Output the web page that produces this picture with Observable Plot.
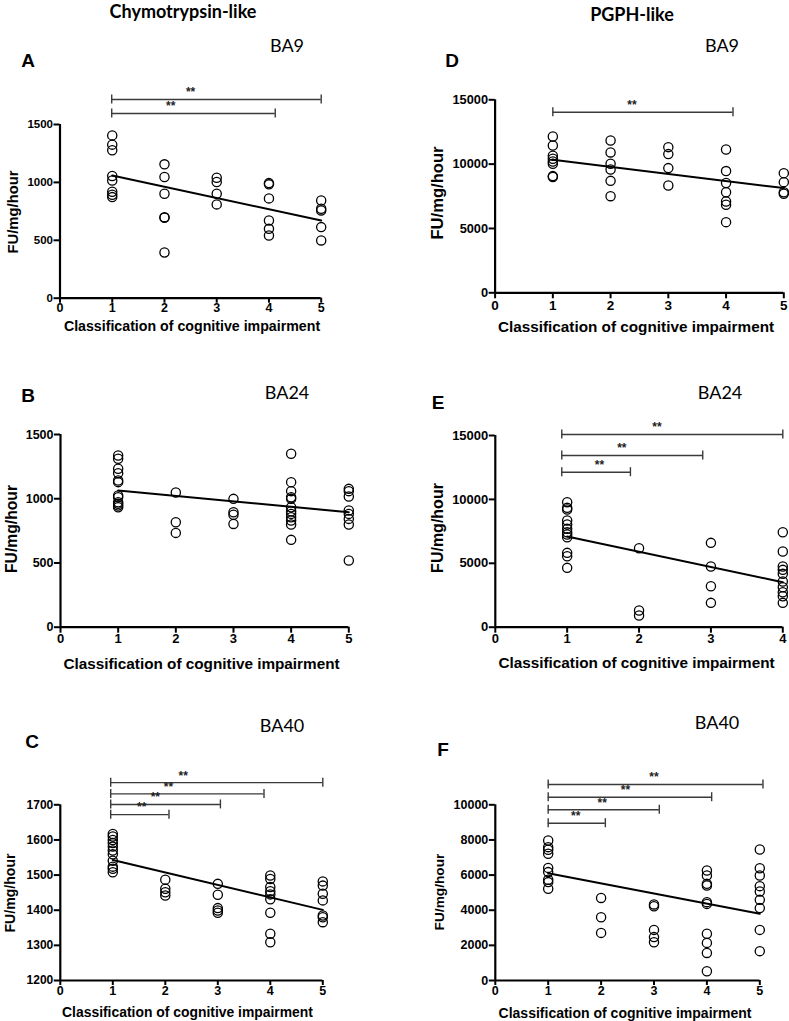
<!DOCTYPE html>
<html><head><meta charset="utf-8">
<script src="https://cdn.jsdelivr.net/npm/d3@7"></script>
<script src="https://cdn.jsdelivr.net/npm/@observablehq/plot@0.6"></script>
<style>
body{margin:0;background:#fff;}
#fig{position:relative;width:789px;height:1021px;overflow:hidden;background:#fff;font-family:"Liberation Sans",Arial,sans-serif;color:#000;}
.t{position:absolute;white-space:nowrap;transform:translate(-50%,-50%);line-height:1;}
.col{font-family:Lato,"Open Sans",sans-serif;font-weight:bold;font-size:18px;}
.reg{font-family:Lato,"Open Sans",sans-serif;font-size:18px;}
.let{font-weight:bold;font-size:19px;}
.xl{font-weight:bold;}
.yl{font-weight:bold;transform:translate(-50%,-50%) rotate(-90deg);}
.p{position:absolute;}
</style></head><body><div id="fig"></div>
<script>
// ---------- data ----------
const groups5 = [1, 2, 3, 4, 5];
const groups4 = [1, 2, 3, 4];
const xLabel = "Classification of cognitive impairment";
const yLabel = "FU/mg/hour";
const columnTitles = ["Chymotrypsin-like", "PGPH-like"];

// A: Chymotrypsin-like, BA9
const chymoBA9 = [[1406,1326,1277,1055,1017,919,893,873],[1156,1046,902,700,695,395],[1040,1003,902,810],[994,983,862,671,599,542],[844,772,758,614,499]];
const chymoBA9Trend = [1060, 671];
const chymoBA9BrFrom = [0.99, 0.99], chymoBA9BrTo = [5.0, 4.12], chymoBA9BrLevel = [1716, 1595], chymoBA9StarX = [2.5, 2.12];
const chymoBA9YTicks = [0, 500, 1000, 1500];

// B: Chymotrypsin-like, BA24
const chymoBA24 = [[1337,1311,1233,1199,1142,1129,1025,1012,973,960,947,934],[1048,817,734],[999,895,875,804],[1350,1129,1059,1012,999,934,903,882,856,830,799,680],[1077,1059,1017,908,882,843,799,519]];
const chymoBA24Trend = [1064, 895];
const chymoBA24YTicks = [0, 500, 1000, 1500];

// C: Chymotrypsin-like, BA40
const chymoBA40 = [[1617,1610,1600,1591,1581,1570,1559,1541,1524,1518,1508],[1487,1461,1451,1442],[1475,1444,1406,1399,1393],[1499,1489,1466,1454,1445,1431,1393,1333,1309],[1482,1470,1447,1428,1385,1380,1366]];
const chymoBA40Trend = [1543, 1401];
const chymoBA40BrFrom = [0.96,0.96,0.96,0.96], chymoBA40BrTo = [5.0,3.88,3.05,2.07], chymoBA40BrLevel = [1763,1731,1701,1672], chymoBA40StarX = [2.34,2.06,1.81,1.55];
const chymoBA40YTicks = [1200, 1300, 1400, 1500, 1600, 1700];

// D: PGPH-like, BA9
const pgphBA9 = [[12150,11450,10650,10420,10210,10030,9070,9000],[11840,10910,10030,9585,8700,7510],[11320,10780,9690,8340],[11140,9460,8530,7820,7100,6840,5490],[9300,8600,7820,7700]];
const pgphBA9Trend = [10340, 8140];
const pgphBA9BrFrom = [1.0], pgphBA9BrTo = [4.12], pgphBA9BrLevel = [14036], pgphBA9StarX = [2.37];
const pgphBA9YTicks = [0, 5000, 10000, 15000];

// E: PGPH-like, BA24
const pgphBA24 = [[9783,9340,9210,8348,8035,7696,7435,7250,7044,5818,5557,4644],[6183,1304,913],[6600,4748,3209,1904],[7435,5922,4748,4487,4174,3574,3131,2739,2426,1904]];
const pgphBA24Trend = [7096, 3522];
const pgphBA24BrFrom = [0.925,0.925,0.925], pgphBA24BrTo = [4.0,2.886,1.88], pgphBA24BrLevel = [15078,13435,12128], pgphBA24StarX = [2.25,1.76,1.45];
const pgphBA24YTicks = [0, 5000, 10000, 15000];

// F: PGPH-like, BA40
const pgphBA40 = [[7970,7590,7440,7210,6410,6170,5730,5600,5220],[4700,3600,2710],[4330,4230,2880,2470,2180],[6260,5980,5500,5410,4460,4360,2660,2140,1570,530],[7460,6390,5980,5370,5070,4590,4120,2880,1670]];
const pgphBA40Trend = [6110, 3800];
const pgphBA40BrFrom = [1,1,1,1], pgphBA40BrTo = [5.06,4.09,3.1,2.08], pgphBA40BrLevel = [11155,10432,9715,8953], pgphBA40StarX = [3.0,2.46,2.02,1.52];
const pgphBA40YTicks = [0, 2000, 4000, 6000, 8000, 10000];

// ---------- layout (pixels) ----------
const panels = [
  {letter:"A", region:"BA9",  groups:groups5, values:chymoBA9,  trend:chymoBA9Trend,  br:[chymoBA9BrFrom,chymoBA9BrTo,chymoBA9BrLevel,chymoBA9StarX], yTicks:chymoBA9YTicks,
   box:[0,70,390,255], px:[59.5,320.7], py:[124,297.7], letterPos:[28,60], regionPos:[287,45], xlPos:[192,326], xlfs:14.2, ylPos:[13,212], ylfs:14.8, yfs:11.5, xfs:12.5, xts:5, xtp:0},
  {letter:"B", region:"BA24", groups:groups5, values:chymoBA24, trend:chymoBA24Trend, br:null, yTicks:chymoBA24YTicks,
   box:[0,405,390,255], px:[60,348.3], py:[434,626.7], letterPos:[28,395], regionPos:[287,392], xlPos:[201.5,664], xlfs:15.3, ylPos:[12,529], ylfs:15.7, yfs:12.5, xfs:13, xts:6, xtp:1},
  {letter:"C", region:"BA40", groups:groups5, values:chymoBA40, trend:chymoBA40Trend, br:[chymoBA40BrFrom,chymoBA40BrTo,chymoBA40BrLevel,chymoBA40StarX], yTicks:chymoBA40YTicks,
   box:[0,755,390,250], px:[59.8,322.3], py:[804.3,980], letterPos:[32,741], regionPos:[282,725], xlPos:[187.5,1013], xlfs:13.9, ylPos:[10,893], ylfs:14.1, yfs:12, xfs:12.5, xts:5, xtp:1},
  {letter:"D", region:"BA9",  groups:groups5, values:pgphBA9,  trend:pgphBA9Trend,  br:[pgphBA9BrFrom,pgphBA9BrTo,pgphBA9BrLevel,pgphBA9StarX], yTicks:pgphBA9YTicks,
   box:[395,70,394,255], px:[494.6,783.3], py:[99.3,292.3], letterPos:[452,60], regionPos:[722,45], xlPos:[636,327], xlfs:15.3, ylPos:[438,193], ylfs:16.6, yfs:12.8, xfs:13.5, xts:6, xtp:2},
  {letter:"E", region:"BA24", groups:groups4, values:pgphBA24, trend:pgphBA24Trend, br:[pgphBA24BrFrom,pgphBA24BrTo,pgphBA24BrLevel,pgphBA24StarX], yTicks:pgphBA24YTicks,
   box:[395,405,394,255], px:[494.8,782.3], py:[435,626.7], letterPos:[438,402], regionPos:[720,392], xlPos:[636.5,663], xlfs:15.3, ylPos:[438,528], ylfs:16, yfs:13, xfs:13, xts:6, xtp:1},
  {letter:"F", region:"BA40", groups:groups5, values:pgphBA40, trend:pgphBA40Trend, br:[pgphBA40BrFrom,pgphBA40BrTo,pgphBA40BrLevel,pgphBA40StarX], yTicks:pgphBA40YTicks,
   box:[395,755,394,250], px:[494.8,759.3], py:[804.3,980], letterPos:[443,749], regionPos:[717,722], xlPos:[625,1013], xlfs:14, ylPos:[440,892], ylfs:13.7, yfs:12.5, xfs:12.5, xts:5, xtp:1}
];
const colTitlePos = [[183,11],[632,14]];

const fig = document.getElementById("fig");
function addText(txt, cls, pos, fs) {
  const d = document.createElement("div");
  d.className = "t " + cls;
  d.textContent = txt;
  d.style.left = pos[0] + "px";
  d.style.top = pos[1] + "px";
  if (fs) d.style.fontSize = fs + "px";
  fig.appendChild(d);
}
columnTitles.forEach((t, i) => addText(t, "col", colTitlePos[i]));

for (const p of panels) {
  const [sx, sy, W, H] = p.box;
  const xMax = p.groups[p.groups.length - 1];
  const yMin = p.yTicks[0], yMax = p.yTicks[p.yTicks.length - 1];
  const points = p.values.flatMap((vals, i) => vals.map(v => ({g: p.groups[i], v})));
  const trend = [{g: p.groups[0], v: p.trend[0]}, {g: xMax, v: p.trend[1]}];
  const brackets = p.br ? p.br[0].map((f, i) => ({from: f, to: p.br[1][i], level: p.br[2][i], star: p.br[3][i]})) : [];
  const xTicks = d3.range(0, xMax + 1);
  const chart = Plot.plot({
    width: W, height: H,
    marginLeft: p.px[0] - sx, marginRight: sx + W - p.px[1],
    marginTop: p.py[0] - sy, marginBottom: sy + H - p.py[1],
    style: {fontFamily: "'Liberation Sans', Arial, sans-serif", fontWeight: "bold", overflow: "visible", background: "transparent", color: "#000"},
    x: {domain: [0, xMax]},
    y: {domain: [yMin, yMax]},
    marks: [
      Plot.axisX({ticks: xTicks, tickSize: p.xts, tickPadding: p.xtp, strokeWidth: 2, fontSize: p.xfs, label: null, tickFormat: d => d}),
      Plot.axisY({ticks: p.yTicks, tickSize: 6, tickPadding: 1, strokeWidth: 2, fontSize: p.yfs, label: null, tickFormat: d => String(d)}),
      Plot.ruleX([0], {y1: yMin, y2: yMax, strokeWidth: 2.2}),
      Plot.ruleY([yMin], {x1: 0, x2: xMax, strokeWidth: 2.2}),
      Plot.ruleY(brackets, {y: "level", x1: "from", x2: "to", stroke: "#3a3a3a", strokeWidth: 1.4}),
      Plot.ruleX(brackets, {x: "from", y1: "level", y2: "level", insetTop: -4.5, insetBottom: -4.5, stroke: "#3a3a3a", strokeWidth: 1.4}),
      Plot.ruleX(brackets, {x: "to", y1: "level", y2: "level", insetTop: -4.5, insetBottom: -4.5, stroke: "#3a3a3a", strokeWidth: 1.4}),
      Plot.text(brackets, {x: "star", y: "level", text: () => "**", dy: -7, fontSize: 12, fontWeight: "bold", fill: "#222"}),
      Plot.dot(points, {x: "g", y: "v", r: 4.6, stroke: "#000", strokeWidth: 1.3, fill: "none"}),
      Plot.line(trend, {x: "g", y: "v", stroke: "#000", strokeWidth: 2})
    ]
  });
  const wrap = document.createElement("div");
  wrap.className = "p";
  wrap.style.left = sx + "px";
  wrap.style.top = sy + "px";
  wrap.appendChild(chart);
  fig.appendChild(wrap);
  addText(p.letter, "let", p.letterPos);
  addText(p.region, "reg", p.regionPos);
  addText(xLabel, "xl", p.xlPos, p.xlfs);
  addText(yLabel, "yl", p.ylPos, p.ylfs);
}
</script>
</body></html>
